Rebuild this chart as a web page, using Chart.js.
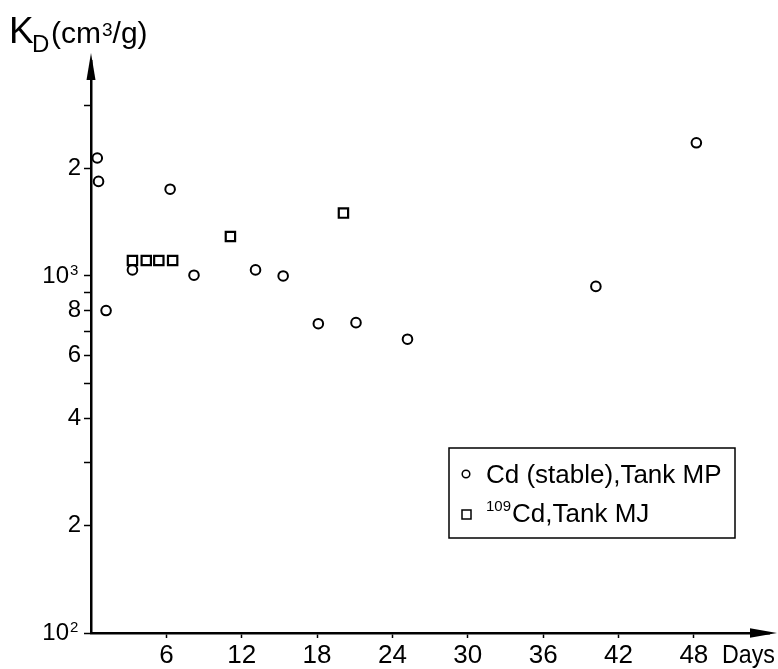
<!DOCTYPE html>
<html>
<head>
<meta charset="utf-8">
<script src="https://cdn.jsdelivr.net/npm/chart.js@4/dist/chart.umd.min.js"></script>
<style>
  html, body { margin: 0; padding: 0; background: #fff; }
</style>
</head>
<body>
<canvas id="myChart" width="778" height="669"></canvas>
<script>
const FONT = '"Liberation Sans", Arial, sans-serif';
const EN_SPACE = '\u2002';

// Cd (stable), Tank MP
const stableDays = [0.5, 0.6, 1.2, 3.3, 6.3, 8.2, 13.1, 15.3, 18.1, 21.1, 25.2, 40.2, 48.2];
const stableKd = [2140, 1840, 800, 1040, 1750, 1005, 1040, 1000, 735, 740, 665, 935, 2360];

// 109Cd, Tank MJ
const tracerDays = [3.3, 4.4, 5.4, 6.5, 11.1, 20.1];
const tracerKd = [1105, 1105, 1105, 1105, 1290, 1500];

const seriesSup = ['', '109'];
const seriesNames = ['Cd (stable),Tank MP', 'Cd,Tank MJ'];

const xTicks = [6, 12, 18, 24, 30, 36, 42, 48];
const yTicks = [100, 200, 300, 400, 500, 600, 700, 800, 900, 1000, 2000, 3000];
const yTickLabels = { 200: '2', 400: '4', 600: '6', 800: '8', 2000: '2' };
// powers of ten get "10" plus a raised exponent
const yPowers = { 100: '2', 1000: '3' };

const toPoints = (xs, ys) => xs.map((x, i) => ({ x: x, y: ys[i] }));

const extras = {
    id: 'extras',
    afterDraw(chart) {
        const ctx = chart.ctx;
        const a = chart.chartArea;
        const yScale = chart.scales.y;
        ctx.save();
        ctx.fillStyle = '#000';
        ctx.strokeStyle = '#000';

        // arrow heads
        ctx.beginPath();
        ctx.moveTo(a.left, 53);
        ctx.lineTo(a.left - 4.5, 80);
        ctx.lineTo(a.left + 4.5, 80);
        ctx.closePath();
        ctx.fill();
        ctx.beginPath();
        ctx.moveTo(777, a.bottom);
        ctx.lineTo(750, a.bottom - 4.7);
        ctx.lineTo(750, a.bottom + 4.7);
        ctx.closePath();
        ctx.fill();

        // exponents of the 10^n tick labels
        ctx.textAlign = 'left';
        ctx.textBaseline = 'top';
        ctx.font = '15px ' + FONT;
        Object.keys(yPowers).forEach(v => {
            const py = yScale.getPixelForValue(Number(v));
            ctx.fillText(yPowers[v], 70, py - 13);
        });

        // axis title
        ctx.textBaseline = 'alphabetic';
        ctx.font = '37px ' + FONT;
        ctx.fillText('K', 9, 43);
        ctx.font = '24px ' + FONT;
        ctx.fillText('D', 32, 52);
        let tx = 51;
        ctx.font = '30px ' + FONT;
        ctx.fillText('(cm', tx, 43);
        tx += ctx.measureText('(cm').width + 1;
        ctx.font = '19px ' + FONT;
        ctx.fillText('3', tx, 36);
        tx += ctx.measureText('3').width;
        ctx.font = '30px ' + FONT;
        ctx.fillText('/g)', tx, 43);

        // "Days"
        ctx.font = '26px ' + FONT;
        ctx.textBaseline = 'top';
        ctx.fillText('Days', 722, a.bottom + 10, 53);

        // legend
        ctx.lineWidth = 1.5;
        ctx.strokeRect(449, 448, 286, 90);
        ctx.beginPath();
        ctx.arc(466, 474, 3.8, 0, Math.PI * 2);
        ctx.stroke();
        ctx.strokeRect(462, 510, 9, 9);
        ctx.textBaseline = 'alphabetic';
        ctx.font = '26px ' + FONT;
        ctx.fillText(seriesNames[0], 486, 483);
        ctx.font = '15px ' + FONT;
        ctx.fillText(seriesSup[1], 486, 511);
        const w = ctx.measureText(seriesSup[1]).width;
        ctx.font = '26px ' + FONT;
        ctx.fillText(seriesNames[1], 487 + w, 522);
        ctx.restore();
    }
};

const ctx = document.getElementById('myChart');
const myChart = new Chart(ctx, {
    type: 'scatter',
    data: {
        datasets: [{
            label: seriesNames[0],
            data: toPoints(stableDays, stableKd),
            pointStyle: 'circle',
            pointRadius: 4.8,
            borderWidth: 2,
            borderColor: '#000',
            backgroundColor: 'rgba(0,0,0,0)'
        }, {
            label: seriesSup[1] + seriesNames[1],
            data: toPoints(tracerDays, tracerKd),
            pointStyle: 'rect',
            pointRadius: 6.6,
            borderWidth: 2.2,
            borderColor: '#000',
            backgroundColor: 'rgba(0,0,0,0)'
        }]
    },
    options: {
        responsive: false,
        animation: false,
        devicePixelRatio: 1,
        layout: { padding: { top: 61, right: 7, left: 0, bottom: 0 } },
        plugins: {
            legend: { display: false },
            tooltip: { enabled: false }
        },
        scales: {
            x: {
                type: 'linear',
                min: 0,
                max: 54,
                afterBuildTicks: (s) => { s.ticks = xTicks.map(v => ({ value: v })); },
                afterFit: (s) => { s.height = 36; s.paddingLeft = 0; s.paddingRight = 0; },
                grid: { drawOnChartArea: false, tickLength: 5, tickWidth: 1.5, tickColor: '#000' },
                border: { color: '#000', width: 2.5 },
                ticks: { color: '#000', font: { family: FONT, size: 26 }, padding: 2, maxRotation: 0, autoSkip: false }
            },
            y: {
                type: 'logarithmic',
                min: 100,
                max: 4000,
                afterBuildTicks: (s) => { s.ticks = yTicks.map(v => ({ value: v })); },
                afterFit: (s) => { s.width = 91; s.paddingTop = 0; s.paddingBottom = 0; },
                grid: { drawOnChartArea: false, tickLength: 7, tickWidth: 1.5, tickColor: '#000' },
                border: { color: '#000', width: 2.5 },
                ticks: {
                    color: '#000',
                    font: { family: FONT, size: 24 },
                    padding: 3,
                    autoSkip: false,
                    callback: (v) => yPowers[v] ? '10' + EN_SPACE : (yTickLabels[v] || '')
                }
            }
        }
    },
    plugins: [extras]
});
</script>
</body>
</html>
